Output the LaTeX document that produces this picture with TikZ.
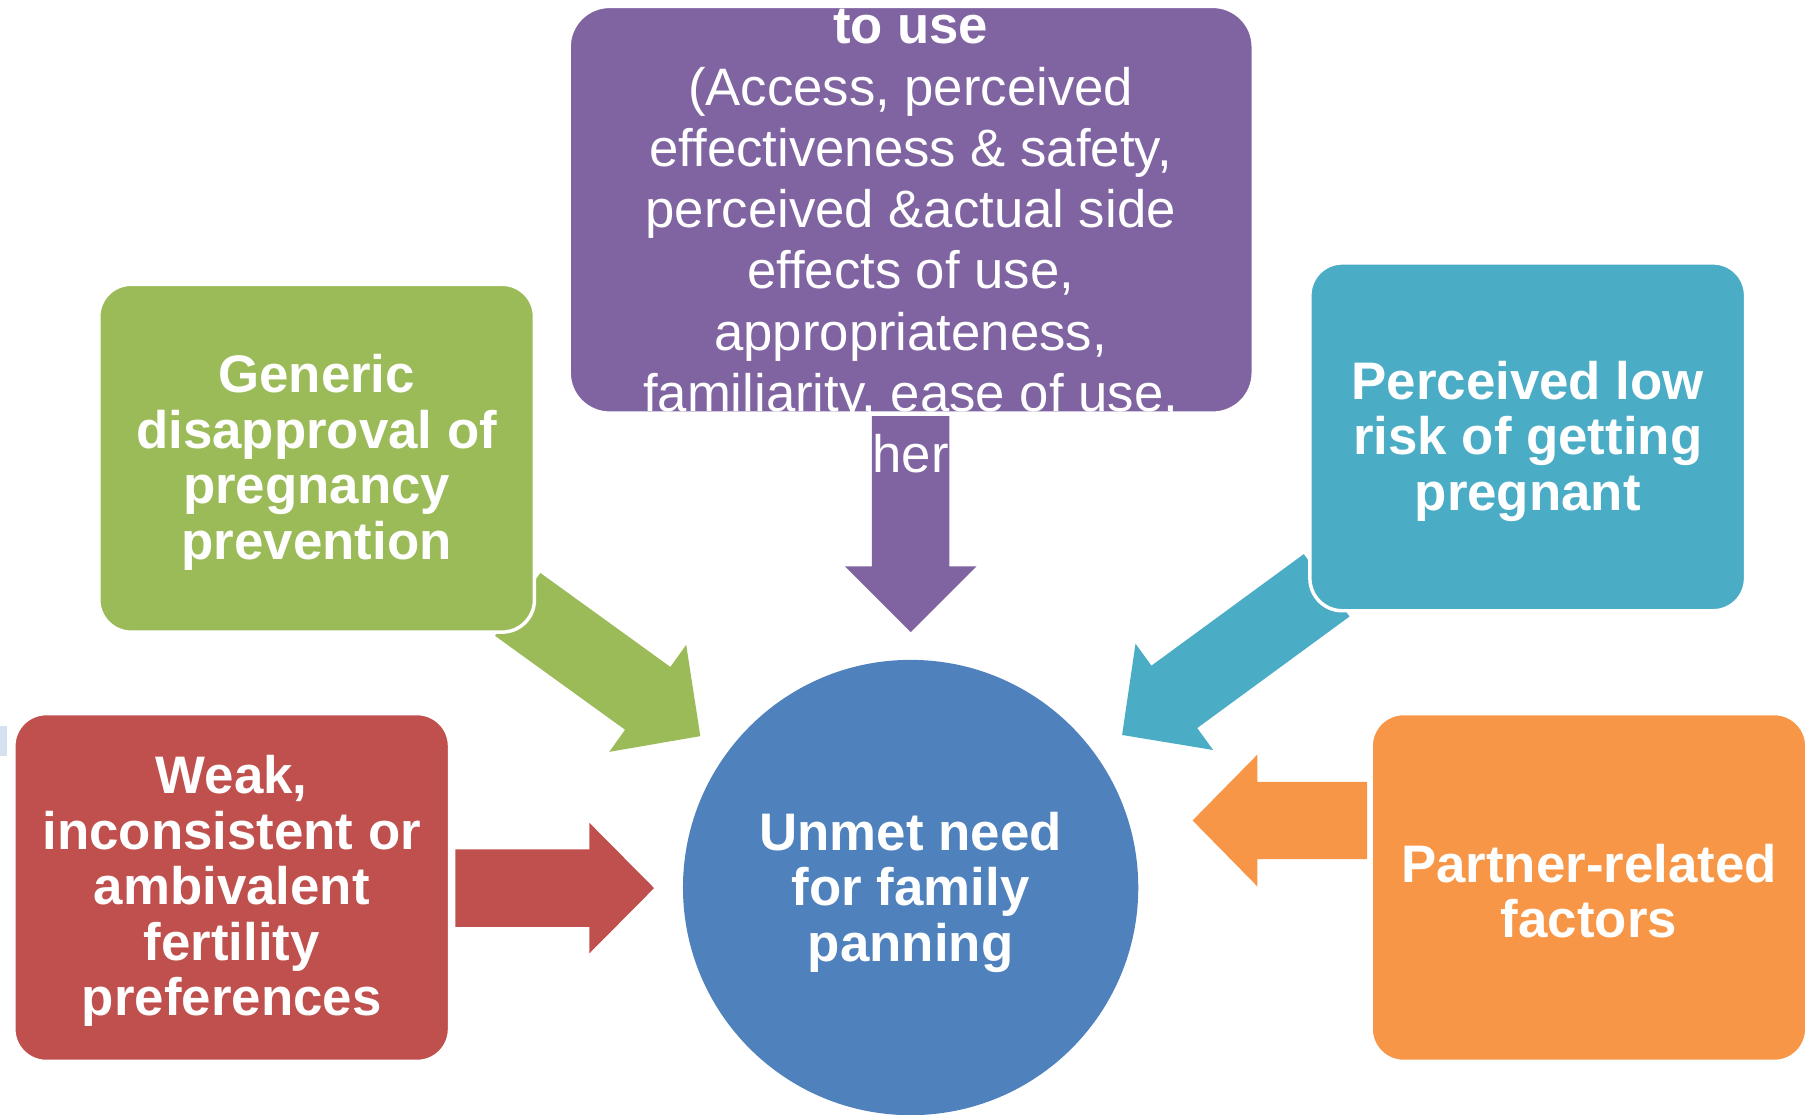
\documentclass[tikz,border=0pt]{standalone}
\usepackage{fontspec}
\setmainfont{Liberation Sans}
\definecolor{cgreen}{HTML}{9BBB59}
\definecolor{cpurple}{HTML}{8064A2}
\definecolor{cblue}{HTML}{4BACC6}
\definecolor{cred}{HTML}{C0504D}
\definecolor{corange}{HTML}{F79646}
\definecolor{ccircle}{HTML}{4F81BD}
\definecolor{cstray}{HTML}{D5E1EE}
\begin{document}
\begin{tikzpicture}[x=0.5pt,y=-0.5pt,
  box/.style={rounded corners=14pt, draw=white, line width=1.5pt, minimum width=188.5pt, minimum height=150.5pt, inner sep=0pt},
  btext/.style={text=white, align=center, inner sep=0pt, font={\bfseries\fontsize{22.85pt}{24pt}\selectfont}},
  ptext/.style={text=white, font={\fontsize{22.8pt}{26.5pt}\selectfont}, inner sep=0pt, anchor=base}
]
\useasboundingbox (0,0) rectangle (1568,964);
\clip (0,0) rectangle (1568,964);

% stray fragment at left edge
\fill[cstray] (0,628) rectangle (6,654);

% block arrows
\fill[cpurple] (754.5,360) -- (821.5,360) -- (821.5,490) -- (845,490) -- (788,547) -- (731,490) -- (754.5,490) -- cycle;
\fill[cgreen] (467.6,495.8) -- (580.1,577.1) -- (593.8,558) -- (606,637) -- (527.2,650.6) -- (540.9,631.5) -- (428.4,550.2) -- cycle;
\fill[cblue] (1128.2,479.5) -- (996.4,576) -- (982.6,557) -- (971,636) -- (1049.8,649) -- (1036,630) -- (1167.8,533.5) -- cycle;
\fill[cred] (394,735) -- (510,735) -- (510,712) -- (566,768.5) -- (510,825) -- (510,802) -- (394,802) -- cycle;
\fill[corange] (1183,676.5) -- (1088,676.5) -- (1088,653) -- (1032,710) -- (1088,767) -- (1088,743.5) -- (1183,743.5) -- cycle;

% boxes
\node[box, fill=cgreen] (gen) at (274,396.5) {};
\node[btext] (gent) at (274,400) {Generic\\disapproval of\\pregnancy\\prevention};
\node[box, fill=cred] (weak) at (200.5,768) {};
\node[btext] (weakt) at (200.5,771) {Weak,\\inconsistent or\\ambivalent\\fertility\\preferences};
\node[box, fill=cblue] (risk) at (1322,378) {};
\node[btext] (riskt) at (1322,382) {Perceived low\\risk of getting\\pregnant};
\node[box, fill=corange] (partner) at (1375,768) {};
\node[btext] (partnert) at (1375,771) {Partner-related\\factors};
\node[box, fill=cpurple, minimum width=296pt, minimum height=176pt, rounded corners=17.5pt] (meth) at (788.5,181.5) {};

% centre circle
\node[circle, fill=ccircle, minimum size=197pt, inner sep=0pt] (unmet) at (788,768) {};
\node[btext] (unmett) at (788,772) {Unmet need\\for family\\panning};

% purple box text, clipped by the box
\begin{scope}
\clip[rounded corners=17.5pt] (494,7) rectangle (1083,356);
\node[ptext, font={\bfseries\fontsize{22.8pt}{26.5pt}\selectfont}] (pl1) at (788,38) {to use};
\node[ptext] (pl2) at (788,91) {(Access, perceived};
\node[ptext] (pl3) at (788,144) {effectiveness \& safety,};
\node[ptext] (pl4) at (788,197) {perceived \&actual side};
\node[ptext] (pl5) at (788,250) {effects of use,};
\node[ptext] (pl6) at (788,303) {appropriateness,};
\node[ptext] (pl7) at (788,356) {familiarity, ease of use,};
\end{scope}
\node[ptext] (pl8) at (788,409) {her};
\end{tikzpicture}
\end{document}
